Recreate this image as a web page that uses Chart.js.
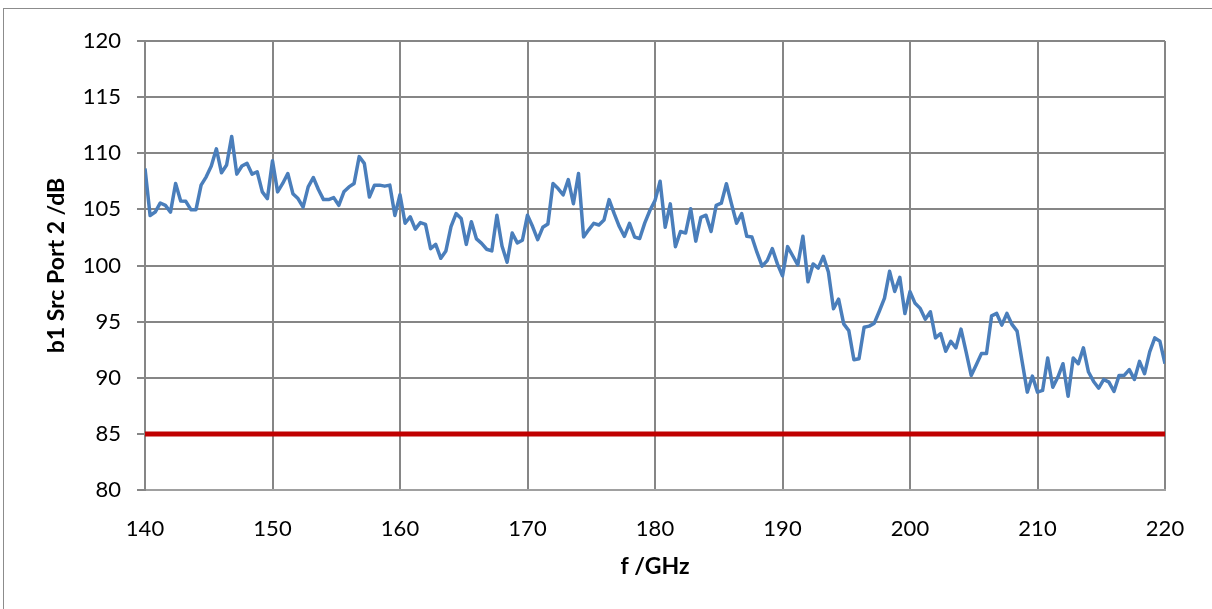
<!doctype html>
<html>
  <head>
    <meta charset="utf-8">
    <title>b1 Src Port 2</title>
    <style>
      html, body {
        margin: 0;
        height: 100%;
        background: #fff;
        overflow: hidden;
      }
      #frame {
        position: absolute;
        left: 3px;
        top: 8px;
        width: 1400px;
        height: 800px;
        border: 1px solid #8c8c8c;
      }
      #wrap {
        position: absolute;
        left: 0;
        top: 0;
        width: 1212px;
        height: 609px;
      }
    </style>
  </head>
  <body>
    <div id="frame"></div>
    <div id="wrap"><canvas id="canvas"></canvas></div>

    <script src="https://cdn.jsdelivr.net/npm/chart.js@4"></script>
    <script>
      // sweep grid: 140 .. 220 GHz, 0.4 GHz step
      var f_start = 140
      var f_step = 0.4

      // b1 Src Port 2 in dB, one value per sweep point
      var b1_db = [
        108.65, 104.46, 104.76, 105.57, 105.36, 104.76, 107.31, 105.75, 105.72, 104.97,
        104.97, 107.16, 107.9, 108.86, 110.39, 108.26, 108.95, 111.5, 108.14, 108.86,
        109.1, 108.14, 108.35, 106.56, 105.96, 109.34, 106.56, 107.31, 108.2, 106.4,
        105.96, 105.2, 107.0, 107.84, 106.77, 105.87, 105.87, 106.05, 105.36, 106.56,
        107.0, 107.31, 109.7, 109.1, 106.1, 107.16, 107.16, 107.07, 107.16, 104.46,
        106.3, 103.76, 104.34, 103.24, 103.82, 103.67, 101.5, 101.88, 100.64, 101.3,
        103.47, 104.62, 104.19, 101.88, 103.9, 102.37, 101.97, 101.45, 101.3, 104.48,
        101.73, 100.29, 102.89, 102.02, 102.25, 104.48, 103.47, 102.3, 103.4, 103.7,
        107.3, 106.85, 106.3, 107.65, 105.5, 108.2, 102.55, 103.18, 103.76, 103.61,
        104.05, 105.87, 104.62, 103.47, 102.6, 103.76, 102.54, 102.4, 103.8, 104.9,
        105.78, 107.5, 103.41, 105.49, 101.68, 103.03, 102.89, 105.06, 102.17, 104.28,
        104.48, 103.03, 105.35, 105.55, 107.28, 105.49, 103.76, 104.62, 102.6, 102.54,
        101.16, 99.94, 100.43, 101.5, 100.14, 99.08, 101.68, 100.87, 100.06, 102.6,
        98.55, 100.14, 99.77, 100.81, 99.42, 96.15, 97.0, 94.8, 94.2, 91.6,
        91.7, 94.5, 94.6, 94.86, 95.95, 97.1, 99.48, 97.69, 98.95, 95.72,
        97.67, 96.63, 96.18, 95.22, 95.88, 93.55, 93.94, 92.36, 93.25, 92.66,
        94.33, 92.3, 90.21, 91.16, 92.15, 92.15, 95.52, 95.73, 94.69, 95.73,
        94.75, 94.15, 91.4, 88.72, 90.15, 88.72, 88.87, 91.76, 89.16, 90.06,
        91.25, 88.36, 91.76, 91.25, 92.66, 90.51, 89.67, 89.07, 89.85, 89.61,
        88.78, 90.21, 90.21, 90.72, 89.85, 91.46, 90.36, 92.3, 93.55, 93.25,
        91.25
      ]

      // limit line
      var limit_f = [140, 220]
      var limit_db = [85, 85]

      var x_ticks = [140, 150, 160, 170, 180, 190, 200, 210, 220]
      var y_ticks = [80, 85, 90, 95, 100, 105, 110, 115, 120]

      var toPoints = function(xs, ys) {
        return ys.map(function(v, i) { return { x: xs[i], y: v } })
      }
      var freqs = b1_db.map(function(v, i) { return +(f_start + i * f_step).toFixed(1) })

      var grid_col = '#868686'
      var font_ticks = { family: 'Lato, "Open Sans", sans-serif', size: 22 }
      var font_title = { family: 'Lato, "Open Sans", sans-serif', size: 23, weight: 'bold' }

      var ctx = document.getElementById('canvas').getContext('2d')
      window.my_chart = new Chart(ctx, {
        type: 'line',
        data: {
          datasets: [
            {
              label: 'b1 Src Port 2',
              data: toPoints(freqs, b1_db),
              borderColor: '#4a7ebb',
              borderWidth: 3.5,
              pointRadius: 0,
              tension: 0,
              borderJoinStyle: 'round'
            },
            {
              label: 'limit',
              data: toPoints(limit_f, limit_db),
              borderColor: '#c00000',
              borderWidth: 5,
              pointRadius: 0,
              tension: 0
            }
          ]
        },
        options: {
          responsive: true,
          maintainAspectRatio: false,
          animation: false,
          layout: { padding: { left: 0, top: 41, right: 47, bottom: 0 } },
          plugins: {
            legend: { display: false },
            tooltip: { enabled: false }
          },
          scales: {
            x: {
              type: 'linear',
              min: 140,
              max: 220,
              afterFit: function(s) { s.height = 119 },
              afterBuildTicks: function(s) { s.ticks = x_ticks.map(function(v) { return { value: v } }) },
              grid: { color: grid_col, lineWidth: 2, tickLength: 0 },
              border: { color: '#a0a0a0', width: 2 },
              ticks: { color: '#000', font: font_ticks, padding: 26, maxRotation: 0 },
              title: { display: true, text: 'f /GHz', color: '#000', font: font_title, padding: { top: 0, bottom: 29 } }
            },
            y: {
              min: 80,
              max: 120,
              afterFit: function(s) { s.width = 145 },
              afterBuildTicks: function(s) { s.ticks = y_ticks.map(function(v) { return { value: v } }) },
              grid: { color: grid_col, lineWidth: 2, tickLength: 8 },
              border: { color: grid_col, width: 2 },
              ticks: { color: '#000', font: font_ticks, padding: 16 },
              title: { display: true, text: 'b1 Src Port 2 /dB', color: '#000', font: font_title, padding: { top: 43, bottom: 0 } }
            }
          }
        }
      })
    </script>
  </body>
</html>
